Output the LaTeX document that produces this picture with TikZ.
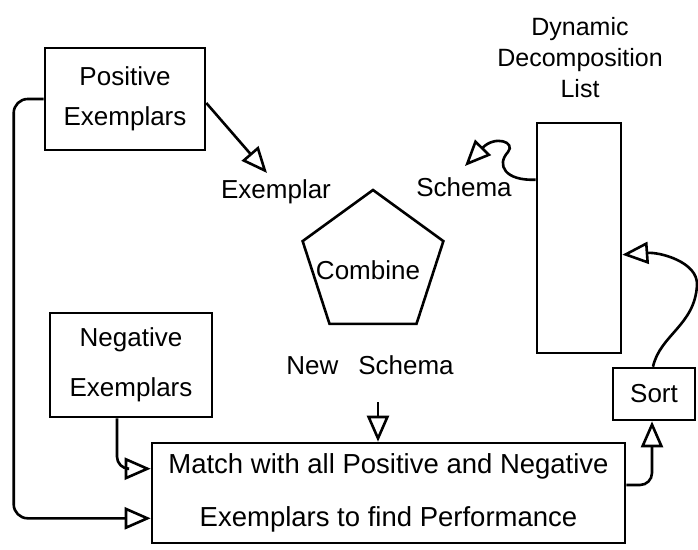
\documentclass[tikz,border=0pt]{standalone}
\usepackage{fontspec}
\setmainfont{Liberation Sans}
\usetikzlibrary{arrows.meta,shapes.geometric,calc}
\begin{document}
\begin{tikzpicture}[x=1pt,y=-1pt,
  every node/.style={font=\fontsize{26}{30}\selectfont},
  box/.style={draw, line width=2.6pt, inner sep=0pt, align=center},
  lbl/.style={inner sep=0pt, align=center},
  conn/.style={line width=2.6pt},
  arr/.style={conn, -{Triangle[open, length=26pt, width=22pt]}}
]
\useasboundingbox (0,0) rectangle (698,549);
% boxes
\node[box, minimum width=160pt, minimum height=102pt, font=\fontsize{26}{40}\selectfont] (pos) at (125,99) {Positive\\Exemplars};
\node[box, minimum width=162pt, minimum height=104pt, font=\fontsize{26}{50}\selectfont] (neg) at (131,365) {Negative\\Exemplars};
\node[box, minimum width=473pt, minimum height=100pt, font=\fontsize{27.5}{53}\selectfont] (match) at (388.5,493) {Match with all Positive and Negative\\Exemplars to find Performance};
\node[box, minimum width=84pt, minimum height=230pt] (dl) at (579,238) {};
\node[box, minimum width=82pt, minimum height=52pt] (sort) at (654,394) {Sort};
\node[draw, line width=2.6pt, regular polygon, regular polygon sides=5, minimum size=148pt, inner sep=0pt] (comb) at (373,264) {};
% labels
\node[lbl] (combt) at (368,270) {Combine};
\node[lbl] (exm) at (276,192) {Exemplar};
\node[lbl] (sch) at (464,187) {Schema};
\node[lbl] (ns) at (370,365) {New\hspace{20pt}Schema};
\node[lbl, font=\fontsize{25}{31}\selectfont] (dlt) at (580,58) {Dynamic\\Decomposition\\List};
% connectors
\draw[arr, rounded corners=14pt] (pos.west) -- ++(-30,0) |- ($(match.south west)+(0,-26)$);
\draw[arr, rounded corners=12pt] ([xshift=-14pt]neg.south) |- ($(match.north west)+(0,27)$);
\draw[arr] ([yshift=-4pt]pos.east) -- ($(exm.center)+(-9,-19)$);
\draw[arr] ($(dl.north west)+(0,58)$) .. controls (505,181) and (496,165) .. (508,152)
   .. controls (516,142) and (495,135) .. ($(sch.center)+(1,-21)$);
\draw[arr] ($(ns.center)+(8,37)$) -- (match.north -| {$(ns.center)+(8,37)$});
\draw[arr, rounded corners=12pt] ($(match.east)+(0,-8)$) -| ([xshift=-2pt]sort.south);
\draw[arr] ([xshift=-1pt]sort.north) .. controls (660,335) and (695,325) .. (697,285)
   .. controls (698,262) and (660,252) .. ($(dl.north east)+(0,133)$);
\end{tikzpicture}
\end{document}
